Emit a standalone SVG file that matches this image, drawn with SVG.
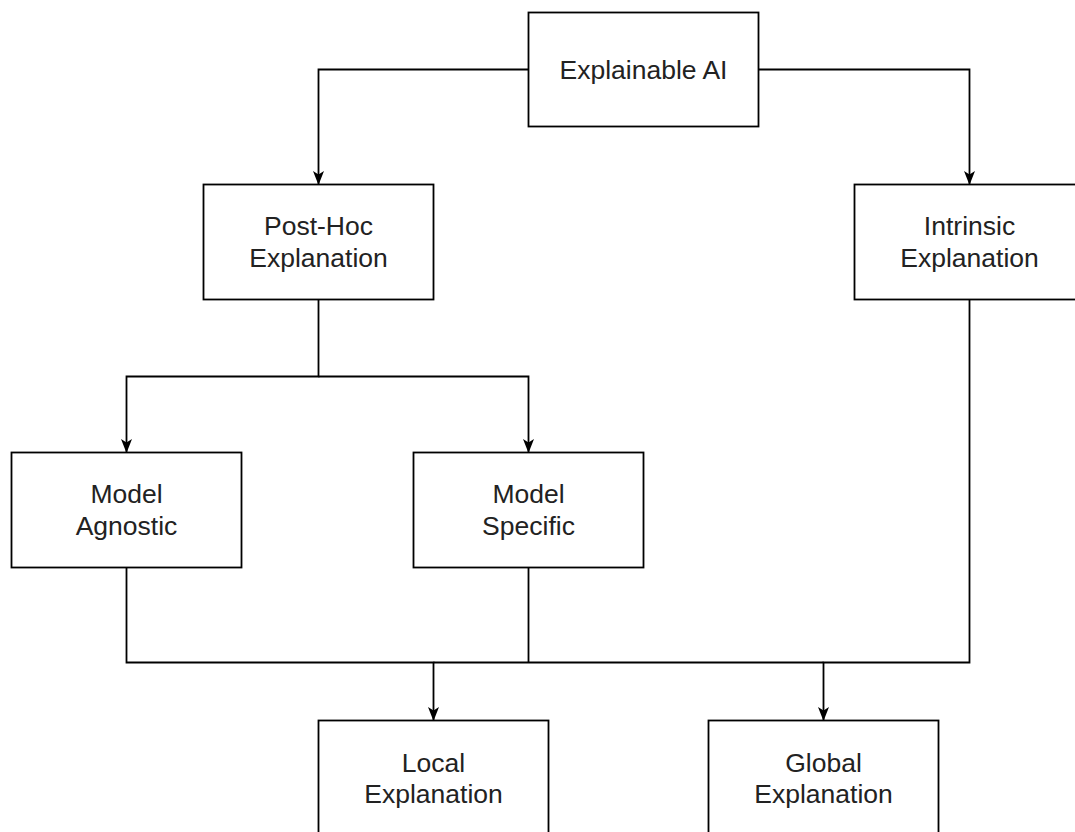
<svg xmlns="http://www.w3.org/2000/svg" width="1075" height="832" viewBox="0 0 1075 832">
  <defs>
    <style>
      .box rect { fill: #ffffff; stroke: #000000; stroke-width: 1.8; }
      .box text { font-family: "Liberation Sans", Arial, sans-serif; font-size: 26.5px; fill: #222222; text-anchor: middle; }
      .wire { fill: none; stroke: #000000; stroke-width: 1.8; }
      .arrow { marker-end: url(#head); }
    </style>
    <marker id="head" viewBox="0 0 14 12" refX="13.5" refY="6" markerWidth="14" markerHeight="12" orient="auto" markerUnits="userSpaceOnUse">
      <path d="M0,0.5 L14,6 L0,11.5 L3.5,6 Z" fill="#000000"/>
    </marker>
  </defs>

  <rect width="1075" height="832" fill="#ffffff"/>

  <!-- connectors -->
  <g id="connectors">
    <path class="wire arrow" d="M528.5,69.5 H318.5 V184.5"/>
    <path class="wire arrow" d="M758.5,69.5 H969.5 V184.5"/>
    <path class="wire arrow" d="M318.5,299.5 V376.5 H126.5 V452.5"/>
    <path class="wire arrow" d="M318.5,376.5 H528.5 V452.5"/>
    <path class="wire arrow" d="M126.5,567.5 V662.5 H433.5 V720.5"/>
    <path class="wire" d="M528.5,567.5 V662.5"/>
    <path class="wire arrow" d="M969.5,299.5 V662.5 H823.5 V720.5"/>
    <path class="wire" d="M433.5,662.5 H823.5"/>
  </g>

  <!-- nodes -->
  <g id="explainable-ai" class="box">
    <rect x="528.5" y="12.5" width="230" height="114"/>
    <text x="643.5" y="78.5">Explainable AI</text>
  </g>

  <g id="post-hoc" class="box">
    <rect x="203.5" y="184.5" width="230" height="115"/>
    <text x="318.5" y="235">Post-Hoc</text>
    <text x="318.5" y="267">Explanation</text>
  </g>

  <g id="intrinsic" class="box">
    <rect x="854.5" y="184.5" width="230" height="115"/>
    <text x="969.5" y="235">Intrinsic</text>
    <text x="969.5" y="267">Explanation</text>
  </g>

  <g id="model-agnostic" class="box">
    <rect x="11.5" y="452.5" width="230" height="115"/>
    <text x="126.5" y="503">Model</text>
    <text x="126.5" y="535">Agnostic</text>
  </g>

  <g id="model-specific" class="box">
    <rect x="413.5" y="452.5" width="230" height="115"/>
    <text x="528.5" y="503">Model</text>
    <text x="528.5" y="535">Specific</text>
  </g>

  <g id="local" class="box">
    <rect x="318.5" y="720.5" width="230" height="115"/>
    <text x="433.5" y="771.5">Local</text>
    <text x="433.5" y="803">Explanation</text>
  </g>

  <g id="global" class="box">
    <rect x="708.5" y="720.5" width="230" height="115"/>
    <text x="823.5" y="771.5">Global</text>
    <text x="823.5" y="803">Explanation</text>
  </g>
</svg>
